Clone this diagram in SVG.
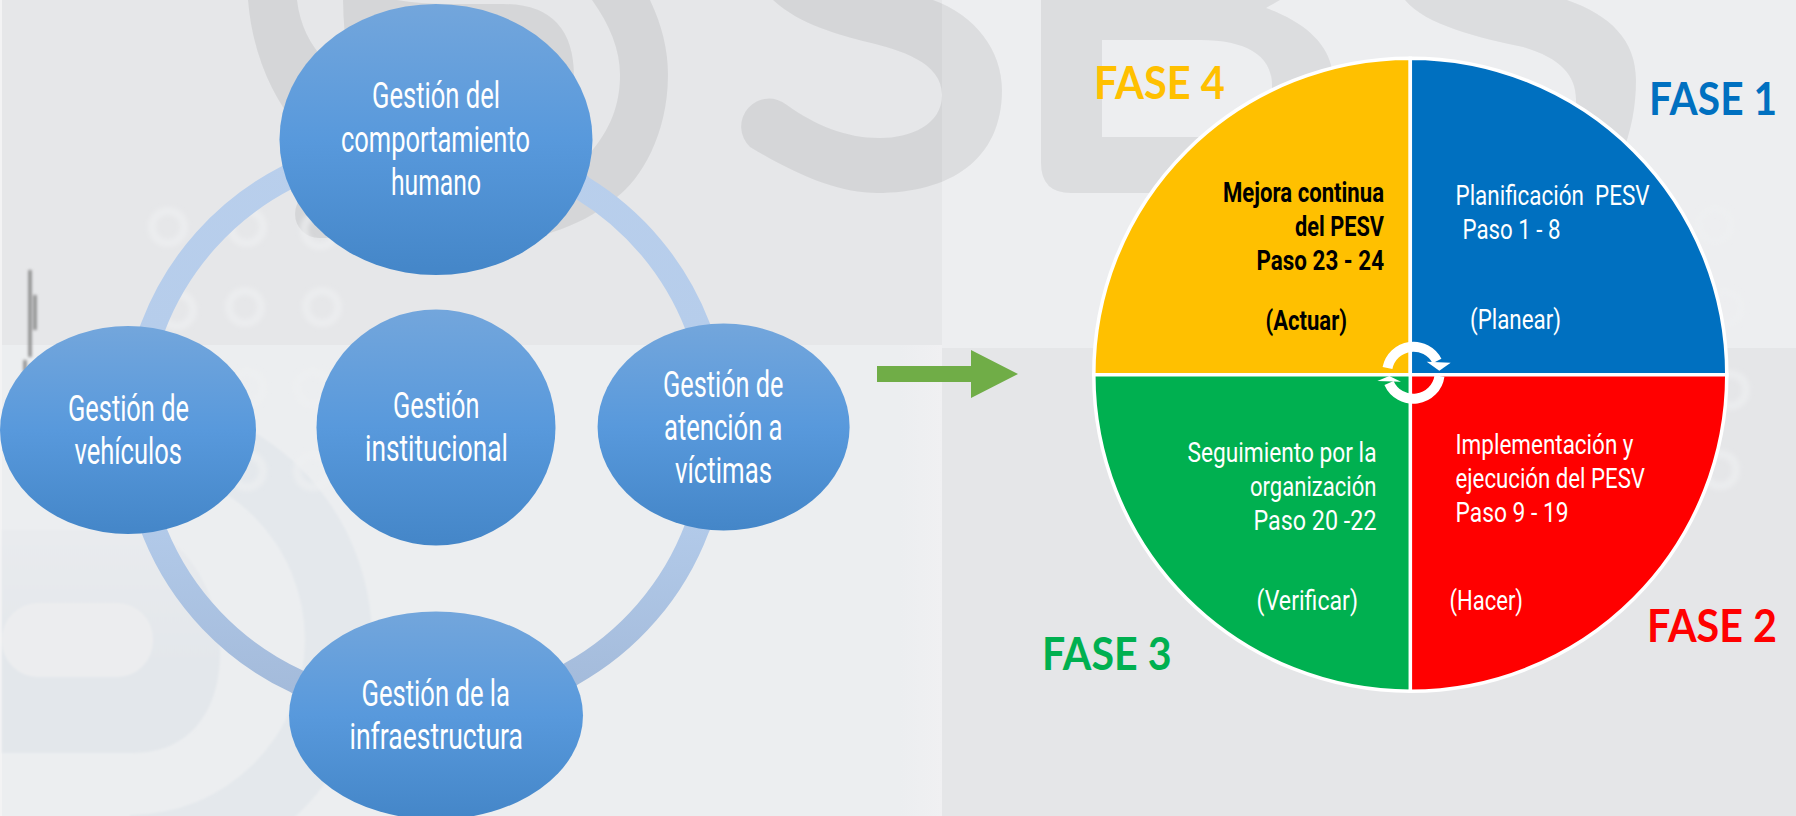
<svg xmlns="http://www.w3.org/2000/svg" width="1796" height="816" viewBox="0 0 1796 816">
<style>
.wm{fill:#000;fill-opacity:.07;fill-rule:evenodd}
.dot{fill:none;stroke:#EEEFF1;stroke-width:8;stroke-opacity:.65;filter:url(#soft)}
.node{fill:url(#nodeGrad)}
.ring{fill:none;stroke:url(#ringGrad);stroke-width:25}
.t{font-family:"Roboto","Liberation Sans",sans-serif;fill:#fff}
.n{font-size:36px}
.s{font-size:28.5px}
.b{font-weight:bold;fill:#000}
.f{font-family:"Lato","Liberation Sans",sans-serif;font-weight:bold;font-size:45px}
.q{stroke:#fff;stroke-width:3.5}
</style>
<defs>
<filter id="soft" x="-40%" y="-40%" width="180%" height="180%"><feGaussianBlur stdDeviation="2.2"/></filter>
<filter id="soft1" x="-5%" y="-5%" width="110%" height="110%"><feGaussianBlur stdDeviation="1.2"/></filter>
<filter id="soft2" x="-400%" y="-10%" width="900%" height="120%"><feGaussianBlur stdDeviation="1.4"/></filter>
<linearGradient id="nodeGrad" x1="0" y1="0" x2="0" y2="1">
<stop offset="0" stop-color="#73A6DC"/><stop offset=".5" stop-color="#5899DC"/><stop offset="1" stop-color="#4486C8"/>
</linearGradient>
<linearGradient id="ringGrad" gradientUnits="userSpaceOnUse" x1="0" y1="150" x2="0" y2="710">
<stop offset="0" stop-color="#B9CFEC"/><stop offset=".65" stop-color="#B3CBEA"/><stop offset="1" stop-color="#A2B9D9"/>
</linearGradient>
<linearGradient id="band" x1="0" y1="0" x2="1" y2="0">
<stop offset="0" stop-color="#ECEEF0"/><stop offset="1" stop-color="#F0F0F2"/>
</linearGradient>
<linearGradient id="dGrad" x1="0" y1="0" x2="0" y2="1">
<stop offset="0" stop-color="#E9EBEE"/><stop offset=".6" stop-color="#E3E7EB"/><stop offset="1" stop-color="#E3E7EB"/>
</linearGradient>
</defs>

<g id="background">
<rect width="1796" height="816" fill="#F3F3F4"/>
<rect x="2" y="0" width="940" height="345" fill="#E6E7E9"/>
<rect x="2" y="345" width="900" height="471" fill="#ECEEF0"/>
<rect x="900" y="345" width="42" height="471" fill="url(#band)"/>
<rect x="942" y="0" width="854" height="348" fill="#EDEEF0"/>
<rect x="942" y="348" width="854" height="468" fill="#E5E6E8"/>
<g filter="url(#soft1)">
<path d="M130,398 A242,242 0 0 1 130,882 L130,815 A175,175 0 0 0 130,465 Z" fill="#E4E8EC"/>
<path d="M2,530 L133,530 C190,530 220,600 220,653 C220,710 190,753 133,753 L2,753 Z" fill="url(#dGrad)"/>
<rect x="2" y="603" width="151" height="74" rx="36" fill="#ECEDEF"/>
</g>
<path class="wm" d="M248,0 L297,0 C300,25 310,45 325,60 L340,80 L300,130 C270,95 252,50 248,0 Z"/>
<path class="wm" d="M592,0 L650,0 C662,25 668,50 668,75 C668,135 640,180 617,197 C595,215 575,225 553,232 L520,245 L540,200 L590,153 C610,130 620,105 620,75 C620,50 610,25 592,0 Z"/>
<path class="wm" d="M343,0 L397,0 Q420,4 450,4 L503,4 Q574,4 574,77 L574,130 L400,180 Q345,120 343,0 Z"/>
<rect class="wm" x="295" y="190" width="100" height="48" rx="24"/>
<path class="wm" d="M773,0 C800,25 840,35 867,42 C900,50 942,62 942,95 C942,125 910,138 880,138 C845,138 815,125 787,105 A28,28 0 0 0 750,147 C800,177 840,193 877,193 C950,193 1002,160 1002,90 C1002,50 975,15 933,0 Z"/>
<path class="wm" d="M1041,0 L1280,0 L1266,8 C1300,20 1325,40 1331,65 L1340,100 L1340,193 L1071,193 Q1041,193 1041,163 Z M1102,40 L1200,40 C1245,40 1272,55 1272,85 L1272,137 L1102,137 Z"/>
<path class="wm" d="M1405,0 C1425,25 1480,38 1523,47 C1560,58 1576,75 1576,100 L1576,160 L1620,160 C1632,130 1636,105 1636,80 C1636,40 1610,15 1567,0 Z"/>
<circle class="dot" cx="168" cy="227" r="16"/>
<circle class="dot" cx="247" cy="227" r="16"/>
<circle class="dot" cx="320" cy="230" r="16"/>
<circle class="dot" cx="177" cy="310" r="16"/>
<circle class="dot" cx="245" cy="307" r="16"/>
<circle class="dot" cx="322" cy="307" r="16"/>
<circle class="dot" cx="247" cy="388" r="16"/>
<circle class="dot" cx="313" cy="388" r="16"/>
<circle class="dot" cx="247" cy="471" r="16"/>
<circle class="dot" cx="313" cy="471" r="16"/>
<circle class="dot" cx="1715" cy="225" r="16"/>
<circle class="dot" cx="1725" cy="308" r="16"/>
<circle class="dot" cx="1730" cy="390" r="16"/>
<circle class="dot" cx="1720" cy="470" r="16"/>
<path d="M30,270 L30,357 M35,295 L35,330 M25,360 L25,372" stroke="#808080" stroke-width="3" fill="none" filter="url(#soft2)"/>
</g>

<g id="connectors">
<path class="ring" d="M146,345 L153,327 A280,280 0 0 1 286,178 L305,168"/>
<path class="ring" d="M565,170 L582,188 A280,280 0 0 1 697.5,326 L708,352"/>
<path class="ring" d="M708,505 L697,528 A280,280 0 0 1 571,674 L550,688"/>
<path class="ring" d="M320,695 L296,681 A280,280 0 0 1 155,533 L147,512"/>
<polygon id="flow-arrow" points="877,366 971,366 971,350 1018,374 971,398 971,382 877,382" fill="#70AD47"/>
</g>

<g id="node-top">
<ellipse class="node" cx="436" cy="139.5" rx="156.5" ry="135.5"/>
<text class="t n" x="372" y="108" textLength="128" lengthAdjust="spacingAndGlyphs">Gestión del</text>
<text class="t n" x="341" y="151.5" textLength="189" lengthAdjust="spacingAndGlyphs">comportamiento</text>
<text class="t n" x="391" y="194.5" textLength="90" lengthAdjust="spacingAndGlyphs">humano</text>
</g>
<g id="node-center">
<ellipse class="node" cx="436" cy="427.5" rx="119.5" ry="118"/>
<text class="t n" x="393" y="418" textLength="86.5" lengthAdjust="spacingAndGlyphs">Gestión</text>
<text class="t n" x="365" y="461" textLength="143" lengthAdjust="spacingAndGlyphs">institucional</text>
</g>
<g id="node-right">
<ellipse class="node" cx="723.6" cy="427" rx="126" ry="103.5"/>
<text class="t n" x="663" y="397" textLength="120.5" lengthAdjust="spacingAndGlyphs">Gestión de</text>
<text class="t n" x="664" y="440" textLength="118.5" lengthAdjust="spacingAndGlyphs">atención a</text>
<text class="t n" x="675" y="483" textLength="97" lengthAdjust="spacingAndGlyphs">víctimas</text>
</g>
<g id="node-left">
<ellipse class="node" cx="128" cy="430" rx="128" ry="104"/>
<text class="t n" x="68" y="420.5" textLength="121" lengthAdjust="spacingAndGlyphs">Gestión de</text>
<text class="t n" x="74.5" y="463.5" textLength="107.5" lengthAdjust="spacingAndGlyphs">vehículos</text>
</g>
<g id="node-bottom">
<ellipse class="node" cx="436" cy="715.5" rx="147" ry="104"/>
<text class="t n" x="361.5" y="705.5" textLength="148.5" lengthAdjust="spacingAndGlyphs">Gestión de la</text>
<text class="t n" x="349.5" y="749" textLength="173.5" lengthAdjust="spacingAndGlyphs">infraestructura</text>
</g>

<g id="phase-4">
<path class="q" d="M1410.3,374.7 L1410.3,58.2 A316.5,316.5 0 0 0 1093.8,374.7 Z" fill="#FFC000"/>
<text class="t s b" x="1223" y="202" textLength="161" lengthAdjust="spacingAndGlyphs">Mejora continua</text>
<text class="t s b" x="1295" y="236" textLength="89" lengthAdjust="spacingAndGlyphs">del PESV</text>
<text class="t s b" x="1256.5" y="270" textLength="127.5" lengthAdjust="spacingAndGlyphs">Paso 23 - 24</text>
<text class="t s b" x="1265.5" y="330" textLength="81.5" lengthAdjust="spacingAndGlyphs">(Actuar)</text>
<text class="f" x="1094" y="98.5" textLength="131" lengthAdjust="spacingAndGlyphs" fill="#FFC000">FASE 4</text>
</g>
<g id="phase-1">
<path class="q" d="M1410.3,374.7 L1410.3,58.2 A316.5,316.5 0 0 1 1726.8,374.7 Z" fill="#0070C0"/>
<text class="t s" x="1455.5" y="205" textLength="194" lengthAdjust="spacingAndGlyphs" xml:space="preserve">Planificación  PESV</text>
<text class="t s" x="1462.5" y="239" textLength="98" lengthAdjust="spacingAndGlyphs">Paso 1 - 8</text>
<text class="t s" x="1470" y="329" textLength="91" lengthAdjust="spacingAndGlyphs">(Planear)</text>
<text class="f" x="1649" y="115" textLength="128" lengthAdjust="spacingAndGlyphs" fill="#0070C0">FASE 1</text>
</g>
<g id="phase-2">
<path class="q" d="M1410.3,374.7 L1726.8,374.7 A316.5,316.5 0 0 1 1410.3,691.2 Z" fill="#FF0000"/>
<text class="t s" x="1455.5" y="453.5" textLength="178" lengthAdjust="spacingAndGlyphs">Implementación y</text>
<text class="t s" x="1455.5" y="487.5" textLength="189.5" lengthAdjust="spacingAndGlyphs">ejecución del PESV</text>
<text class="t s" x="1455.5" y="522" textLength="113" lengthAdjust="spacingAndGlyphs">Paso 9 - 19</text>
<text class="t s" x="1449.5" y="610" textLength="73.5" lengthAdjust="spacingAndGlyphs">(Hacer)</text>
<text class="f" x="1647" y="642" textLength="130" lengthAdjust="spacingAndGlyphs" fill="#FF0000">FASE 2</text>
</g>
<g id="phase-3">
<path class="q" d="M1410.3,374.7 L1410.3,691.2 A316.5,316.5 0 0 1 1093.8,374.7 Z" fill="#00B050"/>
<text class="t s" x="1187.5" y="461.5" textLength="189" lengthAdjust="spacingAndGlyphs">Seguimiento por la</text>
<text class="t s" x="1250" y="495.5" textLength="126.5" lengthAdjust="spacingAndGlyphs">organización</text>
<text class="t s" x="1253.5" y="529.5" textLength="123" lengthAdjust="spacingAndGlyphs">Paso 20 -22</text>
<text class="t s" x="1256.5" y="610" textLength="101.5" lengthAdjust="spacingAndGlyphs">(Verificar)</text>
<text class="f" x="1042" y="670" textLength="129.5" lengthAdjust="spacingAndGlyphs" fill="#00B050">FASE 3</text>
</g>
<g id="cycle-icon">
<path d="M1387.5,368 A26.5,26.5 0 0 1 1437,361" fill="none" stroke="#fff" stroke-width="10"/>
<polygon points="1439.3,370.7 1426.7,361.7 1450.7,362.7" fill="#fff"/>
<path d="M1439.5,376 A26.5,26.5 0 0 1 1389,383" fill="none" stroke="#fff" stroke-width="10"/>
<polygon points="1389.3,376 1377.3,381 1401,381.7" fill="#fff"/>
</g>
</svg>
